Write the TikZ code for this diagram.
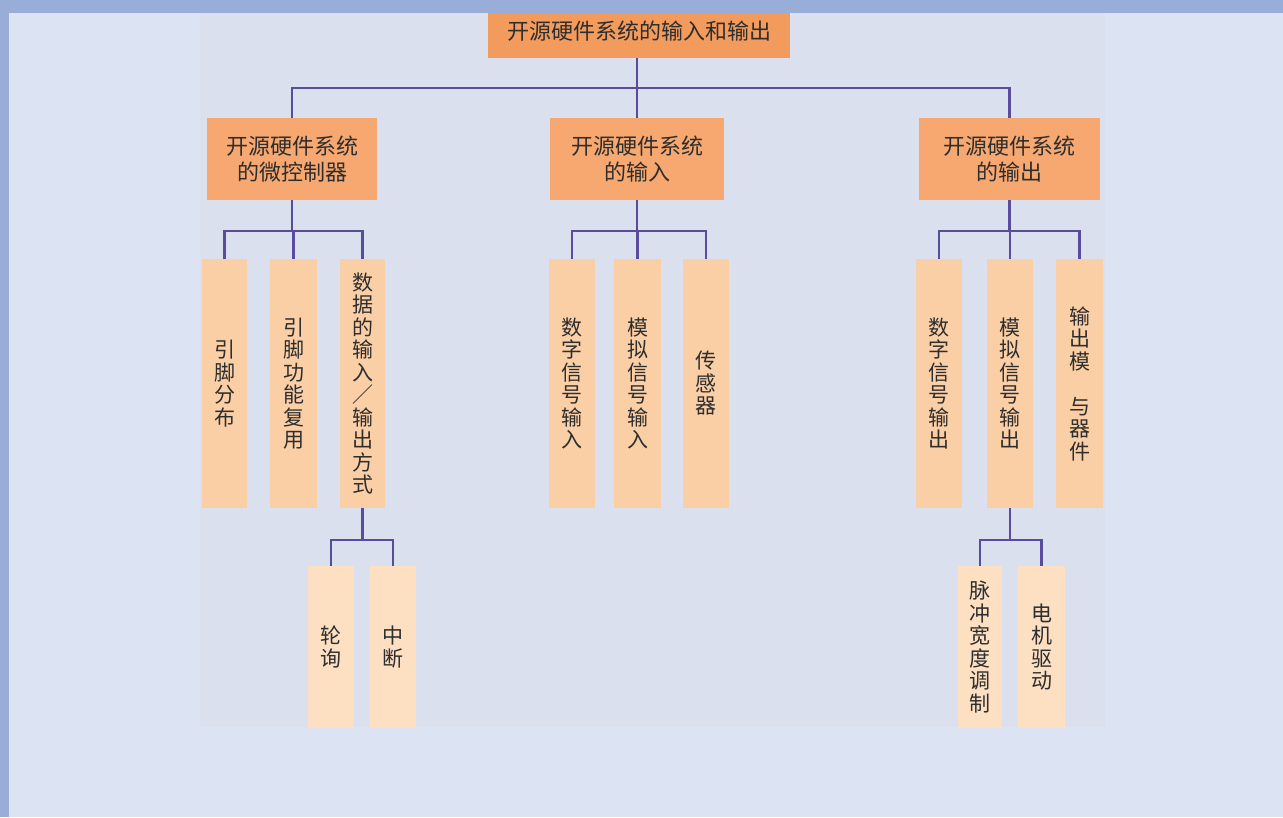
\documentclass[tikz,border=0pt]{standalone}
\usepackage{fontspec}
\newfontfamily\cjk{Noto Sans CJK SC}
\definecolor{bgc}{HTML}{DCE3F2}
\definecolor{panelc}{HTML}{DAE0EE}
\definecolor{framec}{HTML}{98AED8}
\definecolor{rootc}{HTML}{F29B5C}
\definecolor{lonec}{HTML}{F7A870}
\definecolor{leafc}{HTML}{FBCFA6}
\definecolor{lthreec}{HTML}{FDDFC2}
\definecolor{linec}{HTML}{5A4C9C}
\definecolor{txtc}{HTML}{2E2E2E}
\begin{document}
\begin{tikzpicture}[x=1pt,y=-1pt,
  basebox/.style={inner sep=0pt, align=center, text=txtc, font=\cjk\fontsize{22}{26}\selectfont},
  rootbox/.style={basebox, fill=rootc},
  onebox/.style={basebox, fill=lonec},
  leafbox/.style={basebox, fill=leafc, minimum height=249, font=\cjk\fontsize{21}{22.5}\selectfont},
  threebox/.style={basebox, fill=lthreec, minimum height=162, font=\cjk\fontsize{21}{22.5}\selectfont},
  conn/.style={draw=linec, line width=2.5pt}]
\useasboundingbox (0,0) rectangle (1283,817);
\fill[bgc] (0,0) rectangle (1283,817);
\fill[panelc] (200,13) rectangle (1105,727);

% root
\node[rootbox, minimum width=302, minimum height=53] (root) at (639,31.5) {开源硬件系统的输入和输出};
% level 1
\node[onebox, minimum width=170, minimum height=82] (A) at (292,159) {开源硬件系统\\的微控制器};
\node[onebox, minimum width=174, minimum height=82] (B) at (637,159) {开源硬件系统\\的输入};
\node[onebox, minimum width=181, minimum height=82] (C) at (1009.5,159) {开源硬件系统\\的输出};
% level 2
\node[leafbox, minimum width=45] (a1) at (224.5,383.5) {引\\脚\\分\\布};
\node[leafbox, minimum width=47] (a2) at (293.5,383.5) {引\\脚\\功\\能\\复\\用};
\node[leafbox, minimum width=45] (a3) at (362.5,383.5) {数\\据\\的\\输\\入\\／\\输\\出\\方\\式};
\node[leafbox, minimum width=46] (b1) at (572,383.5) {数\\字\\信\\号\\输\\入};
\node[leafbox, minimum width=47] (b2) at (637.5,383.5) {模\\拟\\信\\号\\输\\入};
\node[leafbox, minimum width=46] (b3) at (706,383.5) {传\\感\\器};
\node[leafbox, minimum width=46] (c1) at (939,383.5) {数\\字\\信\\号\\输\\出};
\node[leafbox, minimum width=46] (c2) at (1010,383.5) {模\\拟\\信\\号\\输\\出};
\node[leafbox, minimum width=47] (c3) at (1079.5,383.5) {输\\出\\模\\\phantom{块}\\与\\器\\件};
% level 3
\node[threebox, minimum width=46] (d1) at (331,647) {轮\\询};
\node[threebox, minimum width=46] (d2) at (393,647) {中\\断};
\node[threebox, minimum width=44] (e1) at (980,647) {脉\\冲\\宽\\度\\调\\制};
\node[threebox, minimum width=47] (e2) at (1041.5,647) {电\\机\\驱\\动};

% connectors
\coordinate (rs) at (B.north |- root.south);
\draw[conn] (rs) -- ++(0,30) -| (A.north);
\draw[conn] (rs) -- (B.north);
\draw[conn] (rs) -- ++(0,30) -| (C.north);
\foreach \p/\c in {A/a1,A/a2,A/a3,B/b1,B/b2,B/b3,C/c1,C/c2,C/c3}{
  \draw[conn] (\p.south) -- ++(0,31) -| (\c.north);
}
\foreach \p/\c in {a3/d1,a3/d2,c2/e1,c2/e2}{
  \draw[conn] (\p.south) -- ++(0,32) -| (\c.north);
}

% frame strips
\fill[framec] (0,0) rectangle (1283,13);
\fill[framec] (0,0) rectangle (9,817);
\end{tikzpicture}
\end{document}
